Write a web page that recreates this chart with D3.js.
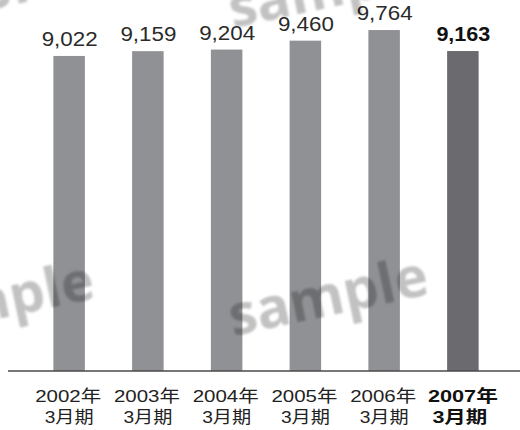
<!DOCTYPE html>
<html>
<head>
<meta charset="utf-8">
<script src="https://cdn.jsdelivr.net/npm/d3@7"></script>
<style>
  html, body { margin: 0; padding: 0; background: #fff; }
  svg { display: block; }
  .wm { mix-blend-mode: multiply; }
</style>
</head>
<body>
<script>
// Net sales by fiscal year (figures as printed above each bar)
const years = ["2002年", "2003年", "2004年", "2005年", "2006年", "2007年"];
const periods = ["3月期", "3月期", "3月期", "3月期", "3月期", "3月期"];
const values = [9022, 9159, 9204, 9460, 9764, 9163];
const valueLabels = ["9,022", "9,159", "9,204", "9,460", "9,764", "9,163"];
const highlightIndex = 5;
const watermarkText = "sample";

const W = 520, H = 430;
const baseY = 371;

const svg = d3.select("body").append("svg")
  .attr("width", W).attr("height", H);

const defs = svg.append("defs");
defs.append("filter").attr("id", "soft")
  .append("feGaussianBlur").attr("stdDeviation", 0.9);

const x = d3.scaleBand()
  .domain(d3.range(values.length))
  .range([14, 518])
  .paddingInner(0.6)
  .paddingOuter(0.5);

const y = d3.scaleLinear()
  .domain([0, 10000])
  .range([baseY, 21.8]);

const fontLatin = "'Liberation Sans', Arial, Helvetica, 'Noto Sans CJK JP', sans-serif";

// Bars
svg.append("g").selectAll("rect")
  .data(values)
  .join("rect")
  .attr("x", (d, i) => x(i))
  .attr("width", x.bandwidth())
  .attr("y", d => y(d))
  .attr("height", d => y(0) - y(d))
  .attr("fill", (d, i) => i === highlightIndex ? "#6a6a6f" : "#909195");

// Value labels (set in a slightly extended face)
svg.append("g").selectAll("text")
  .data(values)
  .join("text")
  .attr("x", (d, i) => x(i) + x.bandwidth() / 2 + 0.5)
  .attr("y", d => y(d) - 10)
  .attr("text-anchor", "middle")
  .attr("font-family", fontLatin)
  .attr("font-size", 19.5)
  .attr("font-weight", (d, i) => i === highlightIndex ? "bold" : "normal")
  .attr("textLength", (d, i) => i === highlightIndex ? 54 : 56)
  .attr("lengthAdjust", "spacingAndGlyphs")
  .attr("fill", (d, i) => i === highlightIndex ? "#111" : "#2a2a2a")
  .text((d, i) => valueLabels[i]);

// Category axis
const axis = d3.axisBottom(x).tickSize(0).tickFormat(() => "");
const gAxis = svg.append("g")
  .attr("transform", `translate(0,${baseY})`)
  .call(axis);
gAxis.select(".domain").remove();

svg.append("line")
  .attr("x1", 8).attr("x2", W)
  .attr("y1", baseY).attr("y2", baseY)
  .attr("stroke", "#4a4a4a")
  .attr("stroke-width", 1.6);

gAxis.selectAll(".tick text").remove();
gAxis.selectAll(".tick").each(function(d) {
  const bold = d === highlightIndex;
  const g = d3.select(this);
  const common = t => t
    .attr("text-anchor", "middle")
    .attr("font-family", fontLatin)
    .attr("font-size", 16.8)
    .attr("font-weight", bold ? "bold" : "normal")
    .attr("lengthAdjust", "spacingAndGlyphs")
    .attr("fill", bold ? "#111" : "#222");
  g.append("text").call(common)
    .attr("x", bold ? 0 : -1)
    .attr("y", 31)
    .attr("textLength", bold ? 70 : 66)
    .text(years[d]);
  g.append("text").call(common)
    .attr("x", bold ? -3 : 0)
    .attr("y", 52)
    .attr("textLength", bold ? 55 : 49)
    .text(periods[d]);
});

// Watermark overlay
const marks = [
  { x: 233, y: 336 },
  { x: -101, y: 340 },
  { x: 233, y: 28 },
  { x: -134, y: 36 }
];
svg.append("g")
  .attr("class", "wm")
  .attr("filter", "url(#soft)")
  .selectAll("text")
  .data(marks)
  .join("text")
  .attr("transform", d => `translate(${d.x},${d.y}) rotate(-12)`)
  .attr("font-family", "'Open Sans', 'DejaVu Sans', sans-serif")
  .attr("font-weight", "bold")
  .attr("font-size", 56)
  .attr("fill", "#c2c2c2")
  .text(watermarkText);
</script>
</body>
</html>
